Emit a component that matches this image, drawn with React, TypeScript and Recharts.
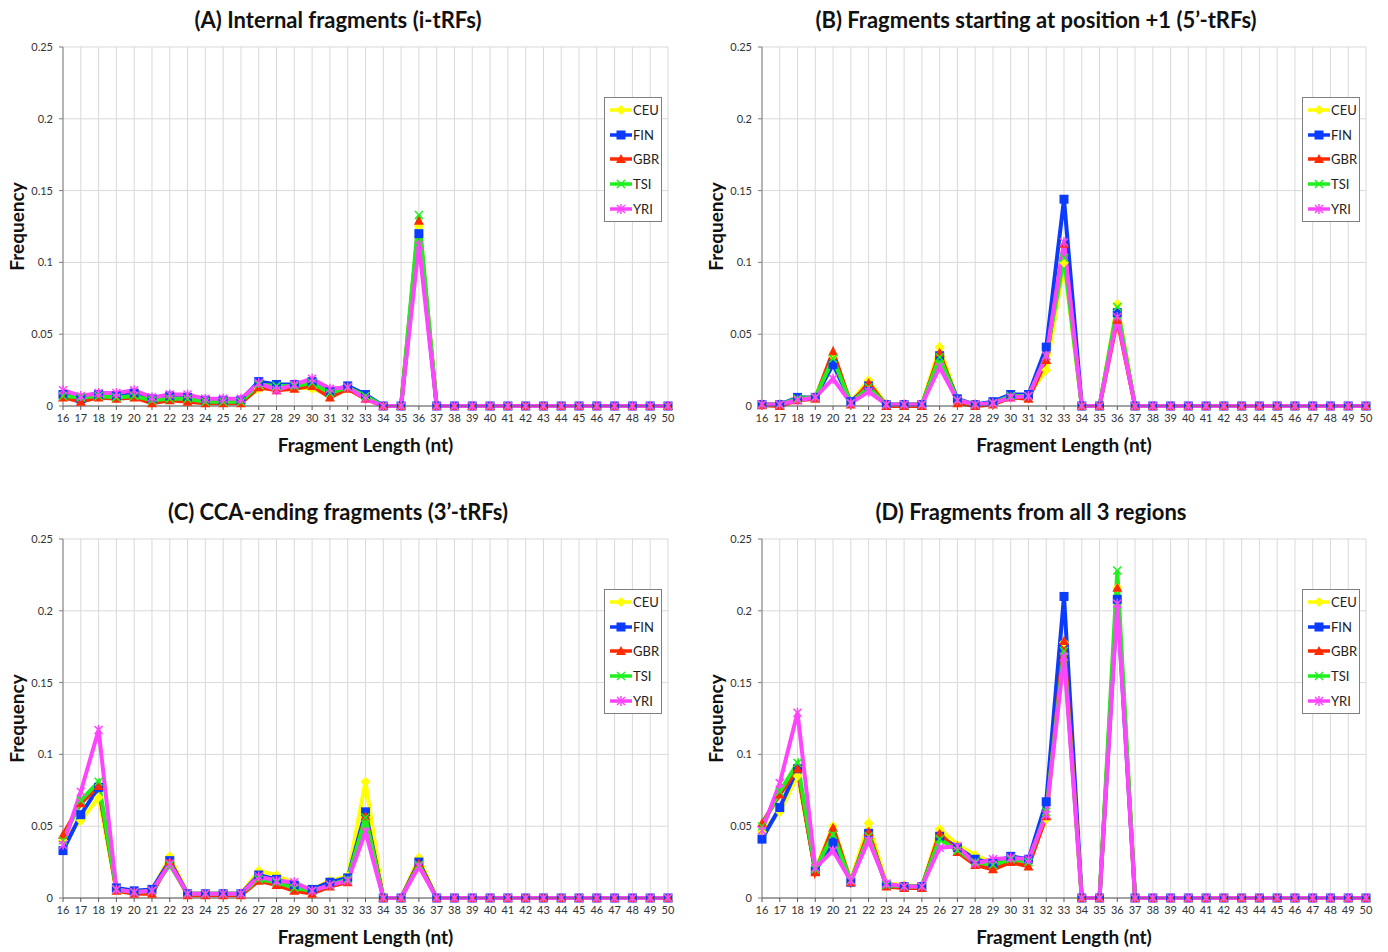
import React from 'react';
import {
  LineChart,
  Line,
  XAxis,
  YAxis,
  CartesianGrid,
  Legend,
} from 'recharts';

// fragment lengths (nt) on the x axis
const lengths = [
  16, 17, 18, 19, 20, 21, 22, 23, 24, 25, 26, 27, 28, 29, 30, 31, 32, 33,
  34, 35, 36, 37, 38, 39, 40, 41, 42, 43, 44, 45, 46, 47, 48, 49, 50,
];
const freqTicks = [0, 0.05, 0.1, 0.15, 0.2, 0.25];
const populations = ['CEU', 'FIN', 'GBR', 'TSI', 'YRI'];

// (A) internal fragments
const aCEU = [0.007, 0.005, 0.007, 0.006, 0.008, 0.004, 0.006, 0.005, 0.003, 0.003, 0.003, 0.012, 0.013, 0.013, 0.012, 0.008, 0.012, 0.006, 0, 0, 0.125, 0, 0, 0, 0, 0, 0, 0, 0, 0, 0, 0, 0, 0, 0];
const aFIN = [0.008, 0.005, 0.008, 0.007, 0.009, 0.005, 0.007, 0.006, 0.004, 0.004, 0.004, 0.017, 0.015, 0.015, 0.017, 0.01, 0.014, 0.008, 0, 0, 0.12, 0, 0, 0, 0, 0, 0, 0, 0, 0, 0, 0, 0, 0, 0];
const aGBR = [0.006, 0.003, 0.006, 0.005, 0.006, 0.002, 0.004, 0.003, 0.002, 0.002, 0.002, 0.013, 0.011, 0.012, 0.014, 0.006, 0.012, 0.005, 0, 0, 0.129, 0, 0, 0, 0, 0, 0, 0, 0, 0, 0, 0, 0, 0, 0];
const aTSI = [0.007, 0.006, 0.007, 0.006, 0.007, 0.004, 0.005, 0.005, 0.003, 0.003, 0.003, 0.015, 0.014, 0.014, 0.016, 0.009, 0.013, 0.007, 0, 0, 0.133, 0, 0, 0, 0, 0, 0, 0, 0, 0, 0, 0, 0, 0, 0];
const aYRI = [0.011, 0.007, 0.009, 0.009, 0.011, 0.006, 0.008, 0.008, 0.005, 0.005, 0.005, 0.016, 0.011, 0.015, 0.019, 0.012, 0.013, 0.005, 0, 0, 0.112, 0, 0, 0, 0, 0, 0, 0, 0, 0, 0, 0, 0, 0, 0];

// (B) 5'-tRFs
const bCEU = [0.001, 0.001, 0.006, 0.006, 0.035, 0.003, 0.018, 0.001, 0.001, 0.001, 0.041, 0.004, 0.001, 0.002, 0.007, 0.008, 0.025, 0.1, 0, 0, 0.071, 0, 0, 0, 0, 0, 0, 0, 0, 0, 0, 0, 0, 0, 0];
const bFIN = [0.001, 0.001, 0.006, 0.006, 0.029, 0.003, 0.014, 0.001, 0.001, 0.001, 0.035, 0.005, 0.001, 0.003, 0.008, 0.008, 0.041, 0.144, 0, 0, 0.065, 0, 0, 0, 0, 0, 0, 0, 0, 0, 0, 0, 0, 0, 0];
const bGBR = [0.0005, 0, 0.004, 0.005, 0.038, 0.001, 0.016, 0, 0, 0, 0.037, 0.002, 0, 0.001, 0.006, 0.005, 0.032, 0.113, 0, 0, 0.06, 0, 0, 0, 0, 0, 0, 0, 0, 0, 0, 0, 0, 0, 0];
const bTSI = [0.001, 0.001, 0.005, 0.006, 0.033, 0.002, 0.013, 0.001, 0.001, 0.001, 0.034, 0.004, 0.001, 0.002, 0.007, 0.007, 0.035, 0.103, 0, 0, 0.069, 0, 0, 0, 0, 0, 0, 0, 0, 0, 0, 0, 0, 0, 0];
const bYRI = [0.001, 0.001, 0.004, 0.006, 0.019, 0.002, 0.01, 0.001, 0.001, 0.001, 0.027, 0.004, 0.001, 0.002, 0.006, 0.007, 0.035, 0.114, 0, 0, 0.062, 0, 0, 0, 0, 0, 0, 0, 0, 0, 0, 0, 0, 0, 0];

// (C) 3'-tRFs
const cCEU = [0.04, 0.054, 0.07, 0.006, 0.004, 0.005, 0.029, 0.003, 0.003, 0.003, 0.003, 0.019, 0.016, 0.01, 0.006, 0.012, 0.015, 0.081, 0, 0, 0.028, 0, 0, 0, 0, 0, 0, 0, 0, 0, 0, 0, 0, 0, 0];
const cFIN = [0.033, 0.058, 0.077, 0.007, 0.005, 0.006, 0.026, 0.003, 0.003, 0.003, 0.003, 0.016, 0.013, 0.009, 0.006, 0.011, 0.014, 0.06, 0, 0, 0.025, 0, 0, 0, 0, 0, 0, 0, 0, 0, 0, 0, 0, 0, 0];
const cGBR = [0.044, 0.066, 0.078, 0.005, 0.003, 0.003, 0.025, 0.002, 0.002, 0.002, 0.002, 0.012, 0.009, 0.005, 0.003, 0.008, 0.011, 0.057, 0, 0, 0.024, 0, 0, 0, 0, 0, 0, 0, 0, 0, 0, 0, 0, 0, 0];
const cTSI = [0.04, 0.068, 0.081, 0.006, 0.004, 0.005, 0.023, 0.003, 0.003, 0.003, 0.003, 0.013, 0.011, 0.007, 0.005, 0.009, 0.013, 0.056, 0, 0, 0.023, 0, 0, 0, 0, 0, 0, 0, 0, 0, 0, 0, 0, 0, 0];
const cYRI = [0.037, 0.074, 0.117, 0.006, 0.004, 0.005, 0.024, 0.003, 0.003, 0.003, 0.003, 0.015, 0.012, 0.011, 0.005, 0.009, 0.012, 0.046, 0, 0, 0.022, 0, 0, 0, 0, 0, 0, 0, 0, 0, 0, 0, 0, 0, 0];

// (D) all 3 regions
const dCEU = [0.046, 0.06, 0.085, 0.02, 0.05, 0.012, 0.052, 0.01, 0.009, 0.008, 0.048, 0.037, 0.03, 0.024, 0.028, 0.026, 0.055, 0.178, 0, 0, 0.216, 0, 0, 0, 0, 0, 0, 0, 0, 0, 0, 0, 0, 0, 0];
const dFIN = [0.041, 0.063, 0.09, 0.019, 0.039, 0.011, 0.045, 0.009, 0.008, 0.008, 0.043, 0.035, 0.027, 0.024, 0.029, 0.027, 0.067, 0.21, 0, 0, 0.208, 0, 0, 0, 0, 0, 0, 0, 0, 0, 0, 0, 0, 0, 0];
const dGBR = [0.052, 0.072, 0.09, 0.018, 0.049, 0.011, 0.046, 0.008, 0.007, 0.007, 0.045, 0.032, 0.023, 0.02, 0.025, 0.022, 0.057, 0.179, 0, 0, 0.216, 0, 0, 0, 0, 0, 0, 0, 0, 0, 0, 0, 0, 0, 0];
const dTSI = [0.05, 0.074, 0.094, 0.02, 0.044, 0.012, 0.043, 0.009, 0.008, 0.008, 0.041, 0.033, 0.025, 0.023, 0.027, 0.025, 0.06, 0.172, 0, 0, 0.228, 0, 0, 0, 0, 0, 0, 0, 0, 0, 0, 0, 0, 0, 0];
const dYRI = [0.047, 0.08, 0.129, 0.021, 0.033, 0.012, 0.04, 0.01, 0.008, 0.008, 0.035, 0.036, 0.024, 0.027, 0.028, 0.027, 0.058, 0.168, 0, 0, 0.205, 0, 0, 0, 0, 0, 0, 0, 0, 0, 0, 0, 0, 0, 0];

const colors: Record<string, string> = {
  CEU: '#ffff00',
  FIN: '#0b3bff',
  GBR: '#ff2a00',
  TSI: '#1ef01e',
  YRI: '#ff44ff',
};

const FONT = 'Lato, "Open Sans", sans-serif';

function Marker({ cx, cy, pop }: { cx: number; cy: number; pop: string }) {
  const c = colors[pop];
  if (pop === 'CEU') {
    return <polygon points={`${cx},${cy - 5} ${cx + 5},${cy} ${cx},${cy + 5} ${cx - 5},${cy}`} fill={c} />;
  }
  if (pop === 'FIN') {
    return <rect x={cx - 4.5} y={cy - 4.5} width={9} height={9} fill={c} />;
  }
  if (pop === 'GBR') {
    return <polygon points={`${cx},${cy - 5} ${cx + 5},${cy + 4} ${cx - 5},${cy + 4}`} fill={c} />;
  }
  if (pop === 'TSI') {
    return (
      <g stroke={c} strokeWidth={1.5}>
        <line x1={cx - 4} y1={cy - 4} x2={cx + 4} y2={cy + 4} />
        <line x1={cx - 4} y1={cy + 4} x2={cx + 4} y2={cy - 4} />
      </g>
    );
  }
  return (
    <g stroke={c} strokeWidth={1.5}>
      <line x1={cx - 4} y1={cy - 4} x2={cx + 4} y2={cy + 4} />
      <line x1={cx - 4} y1={cy + 4} x2={cx + 4} y2={cy - 4} />
      <line x1={cx} y1={cy - 5} x2={cx} y2={cy + 5} />
    </g>
  );
}

function LegendBox() {
  return (
    <div
      style={{
        width: 58,
        height: 125,
        border: '1px solid #7f7f7f',
        background: '#fff',
        boxSizing: 'border-box',
        fontFamily: FONT,
        fontSize: 13,
        color: '#222',
      }}
    >
      {populations.map((p) => (
        <div key={p} style={{ display: 'flex', alignItems: 'center', height: 24.6 }}>
          <svg width={26} height={12} style={{ marginLeft: 2 }}>
            <line x1={3} y1={6} x2={25} y2={6} stroke={colors[p]} strokeWidth={3.5} />
            <Marker cx={14} cy={6} pop={p} />
          </svg>
          <span>{p}</span>
        </div>
      ))}
    </div>
  );
}

interface PanelProps {
  title: string;
  series: number[][];
  left: number;
  top: number;
  wide: boolean;
  titleX: number;
}

function Panel({ title, series, left, top, wide, titleX }: PanelProps) {
  const data = lengths.map((len, i) => {
    const row: Record<string, number> = { len };
    populations.forEach((p, k) => {
      row[p] = series[k][i];
    });
    return row;
  });
  const margin = wide
    ? { top: 17, right: 22, bottom: 14, left: 13 }
    : { top: 17, right: 26, bottom: 14, left: 8 };

  return (
    <div style={{ position: 'absolute', left, top, width: 694, height: 476 }}>
      <div
        style={{
          position: 'absolute',
          top: 4,
          left: titleX - 400,
          width: 800,
          textAlign: 'center',
          fontFamily: FONT,
          fontWeight: 700,
          fontSize: 22,
          lineHeight: '32px',
          color: '#111',
        }}
      >
        {title}
      </div>
      <div style={{ position: 'absolute', top: 30, left: 0 }}>
        <LineChart width={694} height={440} data={data} margin={margin}>
          <CartesianGrid stroke="#d9d9d9" strokeWidth={1} />
          <XAxis
            dataKey="len"
            type="number"
            domain={[16, 50]}
            ticks={lengths}
            interval={0}
            height={50}
            tickSize={4}
            tickMargin={4}
            stroke="#595959"
            tick={{ fill: '#333', fontSize: 11, fontFamily: FONT }}
            label={{
              value: 'Fragment Length (nt)',
              position: 'insideBottom',
              offset: 4,
              style: { fontFamily: FONT, fontWeight: 700, fontSize: 19, fill: '#111' },
            }}
          />
          <YAxis
            type="number"
            domain={[0, 0.25]}
            ticks={freqTicks}
            width={55}
            tickSize={4}
            tickMargin={6}
            stroke="#7f7f7f"
            tick={{ fill: '#333', fontSize: 11, fontFamily: FONT }}
            label={{
              value: 'Frequency',
              angle: -90,
              position: 'insideLeft',
              offset: 9,
              style: { textAnchor: 'middle', fontFamily: FONT, fontWeight: 700, fontSize: 19, fill: '#111' },
            }}
          />
          <Legend
            layout="vertical"
            align="center"
            verticalAlign="middle"
            content={() => <LegendBox />}
            wrapperStyle={{ left: wide ? 608 : 604, top: 67, width: 58, height: 125 }}
          />
          {populations.map((p) => (
            <Line
              key={p}
              dataKey={p}
              stroke={colors[p]}
              strokeWidth={4}
              isAnimationActive={false}
              dot={(d: any) => <Marker key={`${p}-${d.index}`} cx={d.cx} cy={d.cy} pop={p} />}
              activeDot={false}
            />
          ))}
        </LineChart>
      </div>
    </div>
  );
}

export default function App() {
  return (
    <div style={{ position: 'absolute', left: 0, top: 0, width: 1388, height: 952, background: '#fff' }}>
      <Panel title="(A) Internal fragments (i-tRFs)" series={[aCEU, aFIN, aGBR, aTSI, aYRI]} left={0} top={0} wide={false} titleX={338} />
      <Panel title="(B) Fragments starting at position +1 (5’-tRFs)" series={[bCEU, bFIN, bGBR, bTSI, bYRI]} left={694} top={0} wide titleX={342} />
      <Panel title="(C) CCA-ending fragments (3’-tRFs)" series={[cCEU, cFIN, cGBR, cTSI, cYRI]} left={0} top={492} wide={false} titleX={338} />
      <Panel title="(D) Fragments from all 3 regions" series={[dCEU, dFIN, dGBR, dTSI, dYRI]} left={694} top={492} wide titleX={337} />
    </div>
  );
}
